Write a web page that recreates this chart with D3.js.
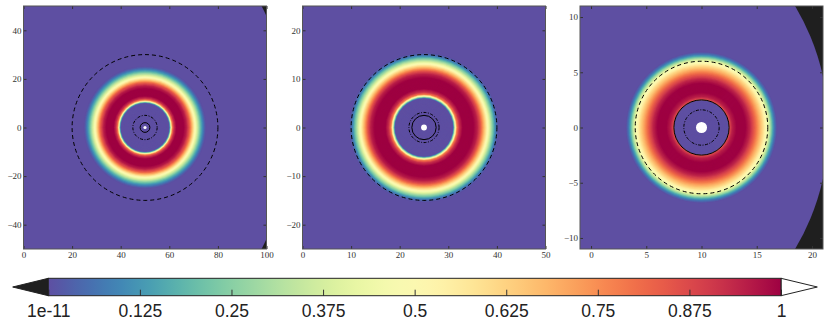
<html>
  <head>
    <meta charset="utf-8">
    <script src="https://cdnjs.cloudflare.com/ajax/libs/d3/7.8.5/d3.min.js"></script>
  </head>
  <body style="margin:0;background:#fff;">
    <style>
      .tick text {font-family:"Liberation Serif",serif; font-size:9px; fill:#333;}
      .tick line {stroke:#333;}
      .cbar .tick text {font-family:"Liberation Sans",Arial,sans-serif; font-size:17.5px; fill:#222;}
    </style>
    <div id="scene"></div>
    <script>


// D A T A

      const xDomains = [[0,100],[0,50],[-1,21]]
      const yDomains = [[-50,50],[-25,25],[-11,11]]
      const xTicks = [[0,20,40,60,80,100],[0,10,20,30,40,50],[0,5,10,15,20]]
      const yTicks = [[-40,-20,0,20,40],[-20,-10,0,10,20],[-10,-5,0,5,10]]

      // ring centre on the x axis, and radius of the computed region round the origin
      const centers = [50, 25, 10]
      const domainR = [110, 60, 21.5]

      // radial profile of the ring
      const ringR = [
        [10, 10.4, 10.8, 11.3, 12, 13, 16, 17.2, 18.3, 19.3, 20.3, 21.2, 22.1, 23, 23.9, 24.6, 25.2],
        [6, 6.2, 6.5, 6.8, 7.3, 8, 10.2, 11, 11.6, 12.2, 12.8, 13.3, 13.8, 14.3, 14.7, 15.1, 15.4],
        [2.5, 2.51, 2.8, 3.2, 4.0, 4.4, 4.8, 5.2, 5.6, 6.0, 6.25, 6.45, 6.65, 6.85]
      ]
      const ringV = [
        [0, 0.2, 0.5, 0.78, 0.92, 1, 1, 0.95, 0.85, 0.7, 0.55, 0.42, 0.3, 0.18, 0.09, 0.03, 0],
        [0, 0.2, 0.5, 0.78, 0.92, 1, 1, 0.95, 0.86, 0.72, 0.58, 0.45, 0.32, 0.2, 0.1, 0.03, 0],
        [0, 0.85, 0.95, 1, 1, 0.94, 0.84, 0.72, 0.6, 0.45, 0.3, 0.16, 0.06, 0]
      ]

      const dashedR = [30, 15, 6]
      const dashdotR = [5, 3.1, 1.6]
      const solidR = [2, 2.5, 2.5]
      const overR = [0.65, 0.6, 0.5]

      const cbTicks = [1e-11, 0.125, 0.25, 0.375, 0.5, 0.625, 0.75, 0.875, 1]
      const cbLabels = ["1e-11", "0.125", "0.25", "0.375", "0.5", "0.625", "0.75", "0.875", "1"]


// L A Y O U T

      let W = 830, H = 331
      let size = 243, ptop = 6
      let lefts = [23.5, 302.5, 580]
      let under = "#1f1f1f"
      let color = v => d3.interpolateSpectral(1 - v)

      let svg = d3.select("#scene")
        .append("svg")
          .attr("width", W)
          .attr("height", H)

      let defs = svg.append("defs")


// P A N E L S

      lefts.forEach((left, i) => {
        let x = d3.scaleLinear().domain(xDomains[i]).range([0, size])
        let y = d3.scaleLinear().domain(yDomains[i]).range([size, 0])
        let k = x(1) - x(0)

        defs.append("clipPath").attr("id", "clip" + i)
          .append("rect").attr("width", size).attr("height", size)

        let g = svg.append("g")
          .attr("transform", `translate(${left},${ptop})`)

        let plot = g.append("g").attr("clip-path", `url(#clip${i})`)

        plot.append("rect")
          .attr("width", size).attr("height", size)
          .attr("fill", under)

        plot.append("circle")
          .attr("cx", x(0)).attr("cy", y(0))
          .attr("r", domainR[i] * k)
          .attr("fill", color(0))

        // ring: nested discs, outermost first, coloured from the profile scale
        let profile = d3.scaleLinear().domain(ringR[i]).range(ringV[i]).clamp(true)
        let rmax = ringR[i][ringR[i].length - 1] * k
        let steps = d3.range(rmax, 0, -0.35)
        plot.append("g")
          .selectAll("circle")
          .data(steps)
          .enter()
            .append("circle")
            .attr("cx", x(centers[i])).attr("cy", y(0))
            .attr("r", d => d)
            .attr("fill", d => color(profile(d / k)))

        let circles = [
          {r: dashedR[i], dash: "4,3"},
          {r: dashdotR[i], dash: "3,1.5,1,1.5"},
          {r: solidR[i], dash: null}
        ]
        plot.append("g")
          .selectAll("circle")
          .data(circles)
          .enter()
            .append("circle")
            .attr("cx", x(centers[i])).attr("cy", y(0))
            .attr("r", d => d.r * k)
            .attr("fill", "none")
            .attr("stroke", "#000")
            .attr("stroke-width", 1)
            .attr("stroke-dasharray", d => d.dash)

        plot.append("circle")
          .attr("cx", x(centers[i])).attr("cy", y(0))
          .attr("r", overR[i] * k)
          .attr("fill", "#fff")

        // axes, ticks pointing inwards on every side
        g.append("g")
          .attr("transform", `translate(0,${size})`)
          .call(d3.axisBottom(x).tickValues(xTicks[i]).tickSize(-3).tickSizeOuter(0).tickPadding(3))
        g.append("g")
          .call(d3.axisTop(x).tickValues(xTicks[i]).tickSize(-3).tickSizeOuter(0).tickFormat(""))
        g.append("g")
          .call(d3.axisLeft(y).tickValues(yTicks[i]).tickSize(-3).tickSizeOuter(0).tickPadding(2))
        g.append("g")
          .attr("transform", `translate(${size},0)`)
          .call(d3.axisRight(y).tickValues(yTicks[i]).tickSize(-3).tickSizeOuter(0).tickFormat(""))
        g.selectAll(".domain").remove()

        g.append("rect")
          .attr("width", size).attr("height", size)
          .attr("fill", "none")
          .attr("stroke", "#555")
          .attr("stroke-width", 1)
      })


// C O L O R B A R

      let cb = {left: 48.3, right: 781, top: 278.3, bottom: 295.7}
      let cx = d3.scaleLinear().domain([1e-11, 1]).range([cb.left, cb.right])
      let mid = (cb.top + cb.bottom) / 2

      let grad = defs.append("linearGradient").attr("id", "spectral")
      grad.selectAll("stop")
        .data(d3.range(0, 1.0001, 0.02))
        .enter()
          .append("stop")
          .attr("offset", d => d)
          .attr("stop-color", d => color(d))

      let bar = svg.append("g").attr("class", "cbar")

      bar.append("path")
        .attr("d", `M${cb.left},${cb.top}L12.7,${mid}L${cb.left},${cb.bottom}Z`)
        .attr("fill", under)
        .attr("stroke", "#222")
      bar.append("path")
        .attr("d", `M${cb.right},${cb.top}L817.3,${mid}L${cb.right},${cb.bottom}Z`)
        .attr("fill", "#fff")
        .attr("stroke", "#222")

      bar.append("rect")
        .attr("x", cb.left).attr("y", cb.top)
        .attr("width", cb.right - cb.left).attr("height", cb.bottom - cb.top)
        .attr("fill", "url(#spectral)")

      bar.append("g")
        .attr("transform", `translate(0,${cb.bottom})`)
        .call(d3.axisBottom(cx)
          .tickValues(cbTicks)
          .tickFormat((d, j) => cbLabels[j])
          .tickSize(-6)
          .tickSizeOuter(0)
          .tickPadding(8.5))
        .select(".domain").remove()

      bar.append("rect")
        .attr("x", cb.left).attr("y", cb.top)
        .attr("width", cb.right - cb.left).attr("height", cb.bottom - cb.top)
        .attr("fill", "none")
        .attr("stroke", "#222")
        .attr("stroke-width", 1)

    </script>
  </body>
</html>
